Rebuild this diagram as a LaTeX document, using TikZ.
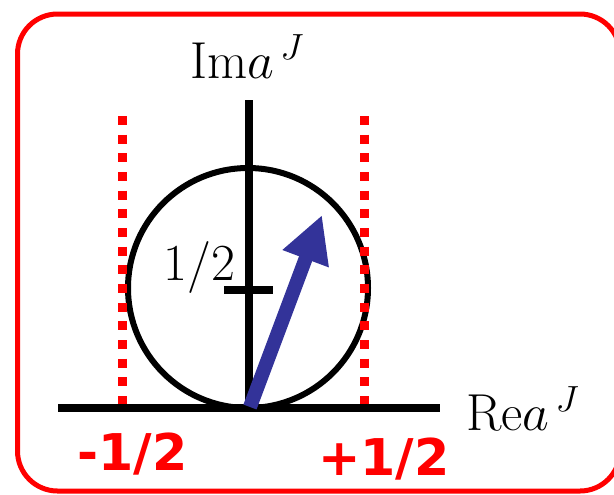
\RequirePackage{fix-cm}
\documentclass[tikz,border=0pt]{standalone}
\usepackage{fontspec}
\newfontfamily\redfont{DejaVu Sans}
\usepackage{tikz}
\usetikzlibrary{arrows.meta}
\definecolor{vecblue}{RGB}{51,51,153}

\begin{document}
\begin{tikzpicture}[
  x=0.75pt, y=-0.75pt,
  axis/.style={line width=6.5pt},
  bound/.style={draw=red, line width=6.75pt, dash pattern=on 6.75pt off 7.25pt},
  lbl/.style={inner sep=0pt, font=\fontsize{39}{41}\selectfont},
  redlbl/.style={inner sep=0pt, text=red, font=\redfont\bfseries\fontsize{38}{40}\selectfont},
  vec/.style={draw=vecblue, line width=10.5pt, -{Triangle[length=35pt,width=34.5pt]}}
]
\useasboundingbox (0,0) rectangle (614,494);
% frame
\draw[red, line width=3.75pt, rounded corners=30pt] (17.5,14) rectangle (620,491);

% axes
\coordinate (O) at (249,408);
\coordinate (xl) at (58,408);
\coordinate (xr) at (440,408);
\coordinate (yt) at (249,100);
\draw[axis] (xl) -- (xr);
\draw[axis] (O) -- (yt);
\draw[line width=4.5pt] (248,288) circle[radius=120];
\coordinate (tl) at (224,290);
\coordinate (tr) at (273,290);
\draw[axis] (tl) -- (tr);

% bounds at -1/2 and +1/2
\coordinate (lb1) at (122,116);
\coordinate (lb2) at (122,404);
\coordinate (rb1) at (364,116);
\coordinate (rb2) at (364,404);
\draw[bound] (lb1) -- (lb2);
\draw[bound] (rb1) -- (rb2);

% vector
\coordinate (tip) at (322,215);
\draw[vec] (250,407) -- (tip);

% labels
\node[lbl, anchor=base west] (imlbl) at (190,78) {Im$a^{\,J}$};
\node[lbl, anchor=base west] (relbl) at (466,430) {Re$a^{\,J}$};
\node[lbl, anchor=base west] (half) at (163,280) {1/2};
\node[redlbl, anchor=base west] (mhalf) at (77,470) {-1/2};
\node[redlbl, anchor=base east] (phalf) at (450,475) {+1/2};
\end{tikzpicture}
\end{document}
